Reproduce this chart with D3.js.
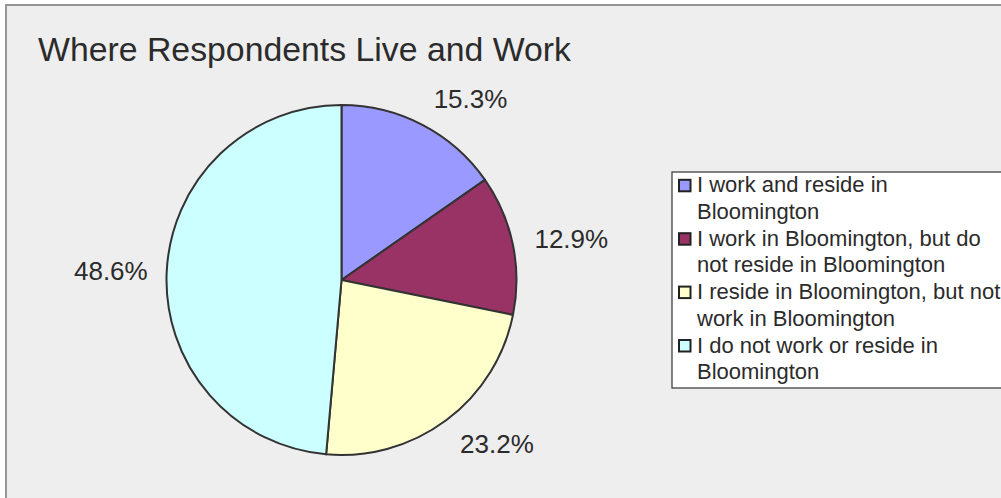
<!DOCTYPE html>
<html>
<head>
<meta charset="utf-8">
<script src="https://cdn.jsdelivr.net/npm/d3@7"></script>
<style>
  html, body { margin: 0; padding: 0; background: #ffffff; overflow: hidden; }
  svg { display: block; font-family: "Liberation Sans", Arial, sans-serif; }
</style>
</head>
<body>
<svg id="chart" width="1001" height="498"></svg>
<script>
// Survey result: where respondents live and work (percent of respondents)
const categories = [
  "I work and reside in Bloomington",
  "I work in Bloomington, but do not reside in Bloomington",
  "I reside in Bloomington, but not work in Bloomington",
  "I do not work or reside in Bloomington"
];
const values = [15.3, 12.9, 23.2, 48.6];
const colors = ["#9999ff", "#993366", "#ffffcc", "#ccffff"];
const title = "Where Respondents Live and Work";

const W = 1001, H = 498;
const svg = d3.select("#chart");
const textColor = "#2b2b2b";

// chart area background and frame (runs past the right and bottom edges)
svg.append("rect")
  .attr("x", 6).attr("y", 5)
  .attr("width", W + 20).attr("height", H + 20)
  .attr("fill", "#eeeeee")
  .attr("stroke", "#8c8c8c")
  .attr("stroke-width", 1.8);

svg.append("text")
  .attr("x", 38).attr("y", 61)
  .attr("font-size", 33.8)
  .attr("fill", textColor)
  .text(title);

// pie
const cx = 341.5, cy = 280, r = 175;
const data = categories.map((c, i) => ({ name: c, value: values[i], color: colors[i] }));
const pie = d3.pie().sort(null).value(d => d.value);
const arcs = pie(data);
const arc = d3.arc().innerRadius(0).outerRadius(r);

const g = svg.append("g").attr("transform", `translate(${cx},${cy})`);
g.selectAll("path.slice")
  .data(arcs)
  .join("path")
  .attr("class", "slice")
  .attr("d", arc)
  .attr("fill", d => d.data.color)
  .attr("stroke", "#333333")
  .attr("stroke-width", 2)
  .attr("stroke-linejoin", "round");

// percentage labels just outside each slice
const labelSize = 26;
const capH = labelSize * 0.716;
const labelR = r + 20;
g.selectAll("text.pct")
  .data(arcs)
  .join("text")
  .attr("class", "pct")
  .attr("font-size", labelSize)
  .attr("fill", textColor)
  .each(function (d) {
    const a = (d.startAngle + d.endAngle) / 2;
    const s = Math.sin(a), c = Math.cos(a);
    const x = labelR * s, y = -labelR * c;
    const anchor = s > 0.1 ? "start" : (s < -0.1 ? "end" : "middle");
    d3.select(this)
      .attr("x", x + (anchor === "start" ? 2 : anchor === "end" ? 1 : 0))
      .attr("y", y + capH * (1 - c) / 2)
      .attr("text-anchor", anchor);
  })
  .text(d => d3.format(".1f")(d.data.value) + "%");

// legend
const legX = 672, legY = 172, legH = 216;
const legFont = 22, lineH = 26.7, maxTextW = 315;
const leg = svg.append("g");
leg.append("rect")
  .attr("x", legX).attr("y", legY)
  .attr("width", 360).attr("height", legH)
  .attr("fill", "#ffffff")
  .attr("stroke", "#333333")
  .attr("stroke-width", 1.2);

let baseline = legY + 20.3;
data.forEach((d, i) => {
  // word-wrap each entry to the legend width
  const t = leg.append("text")
    .attr("font-size", legFont)
    .attr("fill", textColor);
  const words = d.name.split(" ");
  const lines = [];
  let cur = "";
  words.forEach(w => {
    const test = cur ? cur + " " + w : w;
    t.text(test);
    if (t.node().getComputedTextLength() > maxTextW && cur) {
      lines.push(cur);
      cur = w;
    } else {
      cur = test;
    }
  });
  lines.push(cur);
  t.text(null);
  lines.forEach((ln, j) => {
    t.append("tspan")
      .attr("x", legX + 25)
      .attr("y", baseline + j * lineH)
      .text(ln);
  });
  leg.append("rect")
    .attr("x", legX + 7).attr("y", baseline - 12.5)
    .attr("width", 11.5).attr("height", 11.5)
    .attr("fill", d.color)
    .attr("stroke", "#222222")
    .attr("stroke-width", 2);
  baseline += lines.length * lineH;
});
</script>
</body>
</html>
